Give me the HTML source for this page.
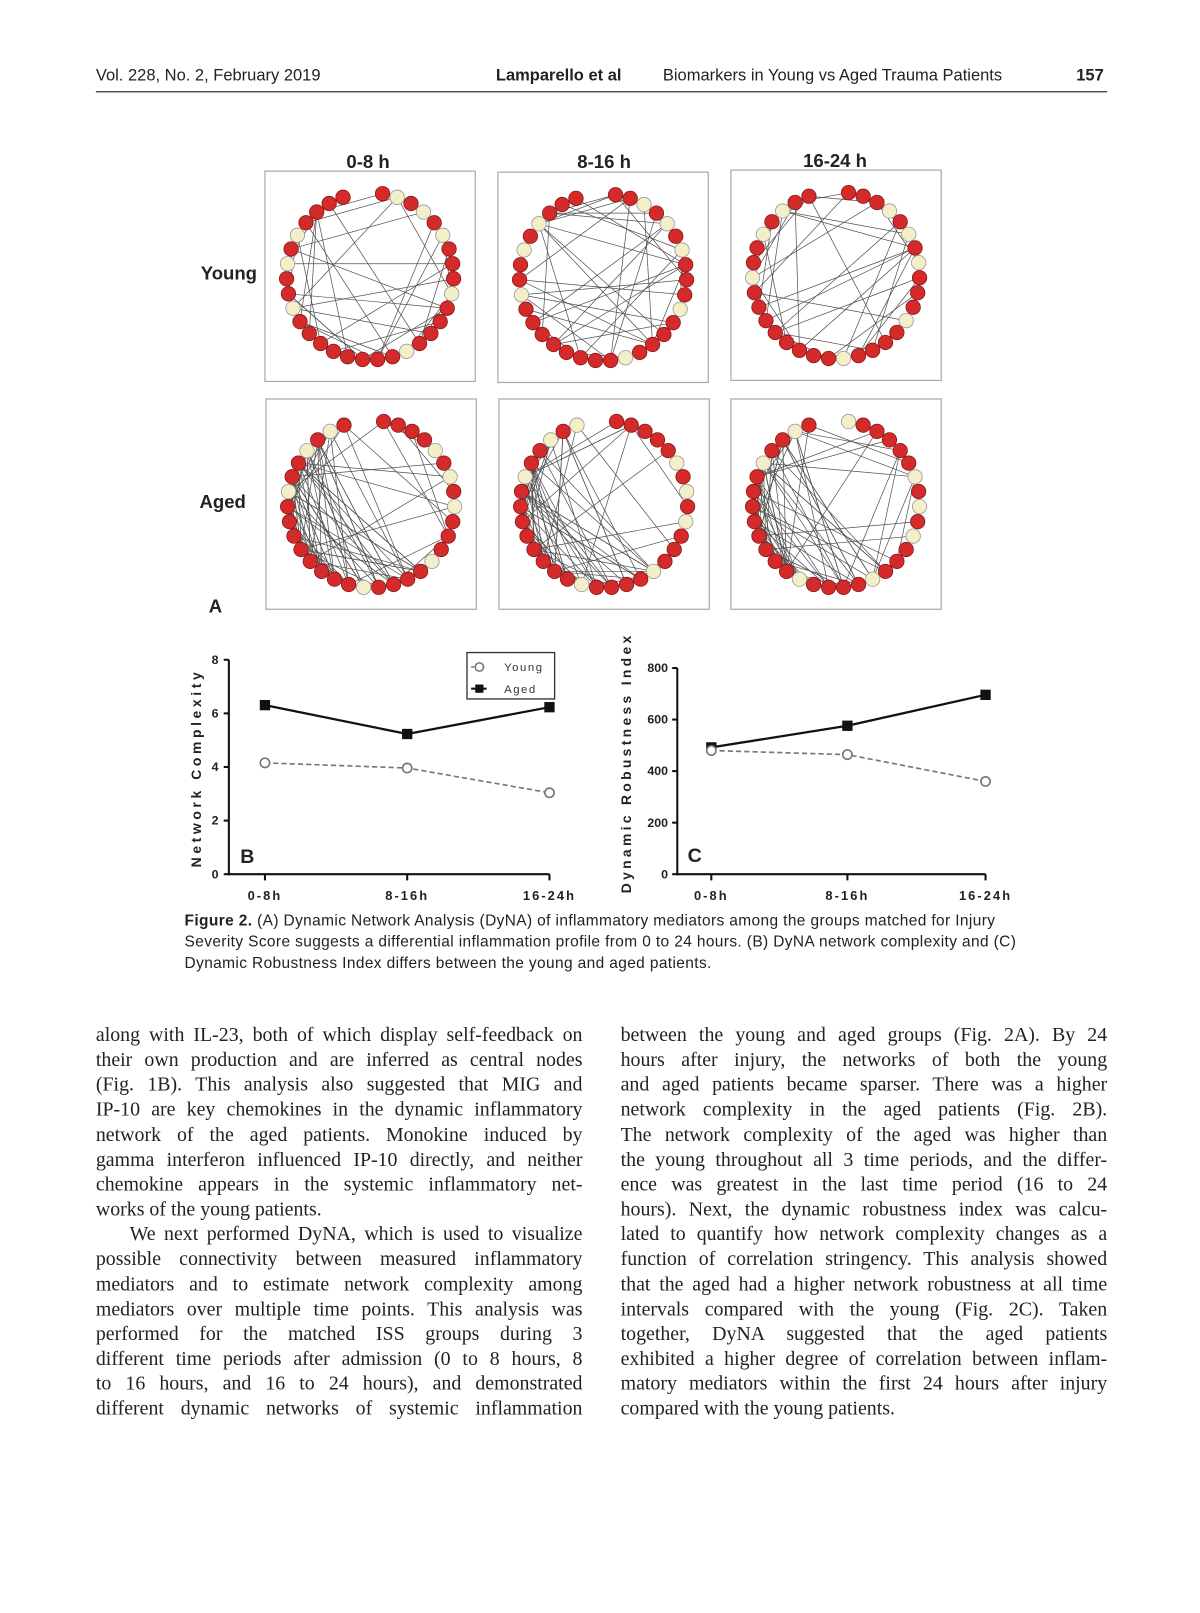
<!DOCTYPE html>
<html><head><meta charset="utf-8">
<style>
html,body{margin:0;padding:0;background:#fff;}
body{width:1200px;height:1613px;overflow:hidden;position:relative;}
#wrap{position:absolute;left:0;top:0;width:1164px;height:1565px;transform:scale(1.0309);transform-origin:0 0;}
svg{position:absolute;left:0;top:0;}
.hd{position:absolute;top:65px;font-family:"Liberation Sans",sans-serif;font-size:16px;color:#222;}
.ln{position:absolute;font-family:"Liberation Serif",serif;font-size:19.3px;color:#222;white-space:nowrap;text-align:justify;text-align-last:justify;width:472px;height:24px;line-height:24px;}
.nl{text-align-last:left;}
.cap{position:absolute;left:179px;font-family:"Liberation Sans",sans-serif;font-size:15px;letter-spacing:0.37px;color:#222;white-space:nowrap;}
</style></head><body><div id="wrap">
<div class="hd" style="left:93px">Vol. 228, No. 2, February 2019</div>
<div class="hd" style="left:481px;font-weight:bold">Lamparello et al</div>
<div class="hd" style="left:643px">Biomarkers in Young vs Aged Trauma Patients</div>
<div class="hd" style="left:1044px;font-weight:bold">157</div>
<svg id="s" width="1164" height="1565" viewBox="0 0 1164 1565" font-family="Liberation Sans, sans-serif">
<line x1="93" y1="89" x2="1074" y2="89" stroke="#333" stroke-width="1.2"/>
<g font-weight="bold" font-size="18" text-anchor="middle" fill="#222">
<text x="357" y="163">0-8 h</text><text x="586" y="163">8-16 h</text><text x="810" y="162">16-24 h</text>
<text x="222" y="271">Young</text><text x="216" y="493">Aged</text>
<text x="209" y="594">A</text></g>
<g id="nets"></g>
<!-- Chart B -->
<g stroke="#111" stroke-width="2" fill="none">
<line x1="222" y1="640" x2="222" y2="849"/><line x1="221" y1="848" x2="533" y2="848"/>
<line x1="217" y1="640" x2="222" y2="640"/><line x1="217" y1="692" x2="222" y2="692"/><line x1="217" y1="744" x2="222" y2="744"/><line x1="217" y1="796" x2="222" y2="796"/><line x1="217" y1="848" x2="222" y2="848"/>
<line x1="257" y1="848" x2="257" y2="854"/><line x1="395" y1="848" x2="395" y2="854"/><line x1="533" y1="848" x2="533" y2="854"/>
<polyline points="257,684 395,712 533,686" stroke-width="2.2"/>
<polyline points="257,740 395,745 533,769" stroke="#777" stroke-width="1.6" stroke-dasharray="5,3"/>
</g>
<g fill="#111"><rect x="252" y="679" width="10" height="10"/><rect x="390" y="707" width="10" height="10"/><rect x="528" y="681" width="10" height="10"/></g>
<g fill="#fff" stroke="#777" stroke-width="1.6"><circle cx="257" cy="740" r="4.5"/><circle cx="395" cy="745" r="4.5"/><circle cx="533" cy="769" r="4.5"/></g>
<g font-size="12" font-weight="bold" fill="#222" text-anchor="end"><text x="212" y="644">8</text><text x="212" y="696">6</text><text x="212" y="748">4</text><text x="212" y="800">2</text><text x="212" y="852">0</text></g>
<g font-size="12.5" font-weight="bold" fill="#222" text-anchor="middle" letter-spacing="2"><text x="257" y="873">0-8h</text><text x="395" y="873">8-16h</text><text x="533" y="873">16-24h</text>
<text x="690" y="873">0-8h</text><text x="822" y="873">8-16h</text><text x="956" y="873">16-24h</text></g>
<text transform="translate(195,745) rotate(-90)" font-size="13.5" font-weight="bold" text-anchor="middle" letter-spacing="3.5" fill="#222">Network Complexity</text>
<text x="233" y="837" font-size="19" font-weight="bold" fill="#222">B</text>
<rect x="453" y="633" width="85" height="45" fill="#fff" stroke="#333" stroke-width="1.3"/>
<line x1="457" y1="647" x2="472" y2="647" stroke="#777" stroke-width="1.5" stroke-dasharray="3,2"/><circle cx="465" cy="647" r="4" fill="#fff" stroke="#777" stroke-width="1.5"/>
<line x1="457" y1="668" x2="472" y2="668" stroke="#111" stroke-width="2"/><rect x="461" y="664" width="8" height="8" fill="#111"/>
<g font-size="11" fill="#333" letter-spacing="1.5"><text x="489" y="651">Young</text><text x="489" y="672">Aged</text></g>
<!-- Chart C -->
<g stroke="#111" stroke-width="2" fill="none">
<line x1="657" y1="648" x2="657" y2="849"/><line x1="656" y1="848" x2="956" y2="848"/>
<line x1="652" y1="648" x2="657" y2="648"/><line x1="652" y1="698" x2="657" y2="698"/><line x1="652" y1="748" x2="657" y2="748"/><line x1="652" y1="798" x2="657" y2="798"/><line x1="652" y1="848" x2="657" y2="848"/>
<line x1="690" y1="848" x2="690" y2="854"/><line x1="822" y1="848" x2="822" y2="854"/><line x1="956" y1="848" x2="956" y2="854"/>
<polyline points="690,725 822,704 956,674" stroke-width="2.2"/>
<polyline points="690,728 822,732 956,758" stroke="#777" stroke-width="1.6" stroke-dasharray="5,3"/>
</g>
<g fill="#111"><rect x="685" y="720" width="10" height="10"/><rect x="817" y="699" width="10" height="10"/><rect x="951" y="669" width="10" height="10"/></g>
<g fill="#fff" stroke="#777" stroke-width="1.6"><circle cx="690" cy="728" r="4.5"/><circle cx="822" cy="732" r="4.5"/><circle cx="956" cy="758" r="4.5"/></g>
<g font-size="12" font-weight="bold" fill="#222" text-anchor="end"><text x="648" y="652">800</text><text x="648" y="702">600</text><text x="648" y="752">400</text><text x="648" y="802">200</text><text x="648" y="852">0</text></g>
<text transform="translate(612,740) rotate(-90)" font-size="13.5" font-weight="bold" text-anchor="middle" letter-spacing="3.2" fill="#222">Dynamic Robustness Index</text>
<text x="667" y="836" font-size="19" font-weight="bold" fill="#222">C</text>
</svg>
<div class="cap" style="top:885px"><b>Figure 2.</b> (A) Dynamic Network Analysis (DyNA) of inflammatory mediators among the groups matched for Injury</div>
<div class="cap" style="top:905px">Severity Score suggests a differential inflammation profile from 0 to 24 hours. (B) DyNA network complexity and (C)</div>
<div class="cap" style="top:926px">Dynamic Robustness Index differs between the young and aged patients.</div>
<div id="body"></div>
</div>
<script>
(function(){
var L=["along with IL-23, both of which display self-feedback on","their own production and are inferred as central nodes","(Fig. 1B). This analysis also suggested that MIG and","IP-10 are key chemokines in the dynamic inflammatory","network of the aged patients. Monokine induced by","gamma interferon influenced IP-10 directly, and neither","chemokine appears in the systemic inflammatory net-","works of the young patients.*","\u00a0\u00a0\u00a0\u00a0We next performed DyNA, which is used to visualize","possible connectivity between measured inflammatory","mediators and to estimate network complexity among","mediators over multiple time points. This analysis was","performed for the matched ISS groups during 3","different time periods after admission (0 to 8 hours, 8","to 16 hours, and 16 to 24 hours), and demonstrated","different dynamic networks of systemic inflammation"];
var R=["between the young and aged groups (Fig. 2A). By 24","hours after injury, the networks of both the young","and aged patients became sparser. There was a higher","network complexity in the aged patients (Fig. 2B).","The network complexity of the aged was higher than","the young throughout all 3 time periods, and the differ-","ence was greatest in the last time period (16 to 24","hours). Next, the dynamic robustness index was calcu-","lated to quantify how network complexity changes as a","function of correlation stringency. This analysis showed","that the aged had a higher network robustness at all time","intervals compared with the young (Fig. 2C). Taken","together, DyNA suggested that the aged patients","exhibited a higher degree of correlation between inflam-","matory mediators within the first 24 hours after injury","compared with the young patients.*"];
var b=document.getElementById('body'),h='';
function add(a,x){a.forEach(function(t,i){var nl=t.slice(-1)=='*';if(nl)t=t.slice(0,-1);h+='<div class="ln'+(nl?' nl':'')+'" style="left:'+x+'px;top:'+(993+i*24.15)+'px">'+t+'</div>';});}
add(L,93);add(R,602);b.innerHTML=h;
var seed=7;function rnd(){seed=(seed*16807)%2147483647;return seed/2147483647;}
var g='',boxes=[[257,166],[483,167],[709,165],[258,387],[484,387],[709,387]];
boxes.forEach(function(bx,k){
 var x0=bx[0],y0=bx[1],cx=x0+102,cy=y0+102,r=81,n=33;
 g+='<rect x="'+x0+'" y="'+y0+'" width="204" height="204" fill="#fff" stroke="#aaa" stroke-width="1.2"/>';
 var pts=[],yel={};
 [1,3,5,9,14,23,26,28].forEach(function(v){yel[(v+k)%n]=1;});
 for(var i=0;i<n;i++){var a=-Math.PI/2+0.15+i*(2*Math.PI-0.3)/n;pts.push([cx+r*Math.cos(a),cy+r*Math.sin(a)]);}
 var aged=k>=3,ne=aged?95:42,e='';
 for(var j=0;j<ne;j++){var p,q;
  if(aged&&rnd()<0.75){p=Math.floor(13+rnd()*8)%n;q=Math.floor(20+rnd()*12)%n;if(rnd()<0.5){var t=p;p=(n-p+8)%n;}}
  else{p=Math.floor(rnd()*n);q=Math.floor(rnd()*n);}
  if(p==q)continue;
  e+='<line x1="'+pts[p][0].toFixed(1)+'" y1="'+pts[p][1].toFixed(1)+'" x2="'+pts[q][0].toFixed(1)+'" y2="'+pts[q][1].toFixed(1)+'"/>';}
 g+='<g stroke="#333" stroke-width="0.7" opacity="0.85">'+e+'</g>';
 pts.forEach(function(p,i){var y=yel[i];g+='<circle cx="'+p[0].toFixed(1)+'" cy="'+p[1].toFixed(1)+'" r="7" fill="'+(y?'#f3efc8':'#d42a2a')+'" stroke="'+(y?'#999':'#8a1a1a')+'" stroke-width="0.8"/>';});
});
document.getElementById('nets').innerHTML=g;
})();
</script>
</body></html>
